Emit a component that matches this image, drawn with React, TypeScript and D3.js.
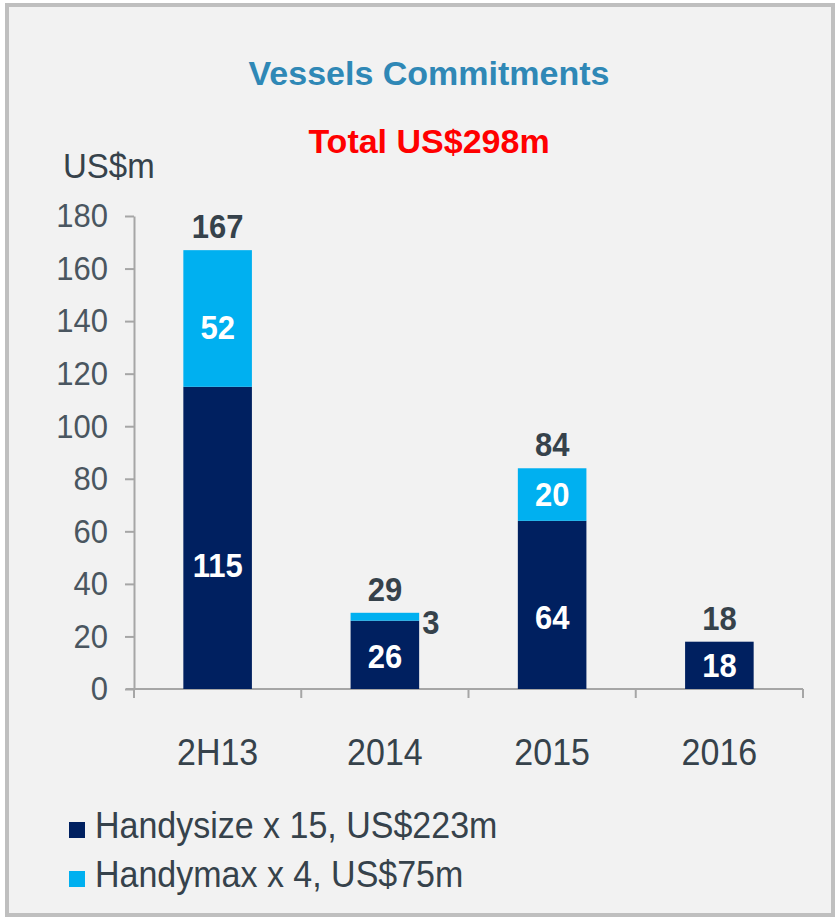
import React, { useEffect, useRef } from "react";
import * as d3 from "d3";

const categories = ["2H13", "2014", "2015", "2016"];
const handysize = [115, 26, 64, 18];
const handymax = [52, 3, 20, 0];
const yTicks = [0, 20, 40, 60, 80, 100, 120, 140, 160, 180];
const seriesNames = ["Handysize x 15, US$223m", "Handymax x 4, US$75m"];
const seriesColors = ["#002060", "#00b0f0"];

const W = 836;
const H = 919;
const FONT = "'Liberation Sans', Arial, Helvetica, sans-serif";
const TEXT = "#36424b";
const AXIS = "#a6a6a6";
const SY = 1.09; // text in the source looks a bit taller than wide

// place a text at (x, y) with a small vertical stretch
const place = (sel: any, x: number, y: number) =>
  sel.attr("x", 0).attr("y", 0).attr("transform", `translate(${x},${y}) scale(1,${SY})`);

const App = () => {
  const svgRef = useRef<SVGSVGElement | null>(null);

  useEffect(() => {
    if (!svgRef.current) return;
    const svg = d3.select(svgRef.current);
    svg.selectAll("*").remove();

    // panel background + border
    svg
      .append("rect")
      .attr("x", 7)
      .attr("y", 5)
      .attr("width", W - 10)
      .attr("height", H - 9)
      .attr("fill", "#f2f2f2")
      .attr("stroke", "#bfbfbf")
      .attr("stroke-width", 4);

    svg
      .append("text")
      .attr("x", 429)
      .attr("y", 85)
      .attr("text-anchor", "middle")
      .attr("font-family", FONT)
      .attr("font-weight", "bold")
      .attr("font-size", 34)
      .attr("fill", "#2f88b6")
      .text("Vessels Commitments");

    svg
      .append("text")
      .attr("x", 429)
      .attr("y", 153)
      .attr("text-anchor", "middle")
      .attr("font-family", FONT)
      .attr("font-weight", "bold")
      .attr("font-size", 34)
      .attr("fill", "#ff0000")
      .text("Total US$298m");

    svg
      .append("text")
      .call(place, 63, 178)
      .attr("font-family", FONT)
      .attr("font-size", 33)
      .attr("fill", TEXT)
      .text("US$m");

    const stacked = categories.map((c, i) => ({
      cat: c,
      hs: handysize[i],
      hm: handymax[i],
      total: handysize[i] + handymax[i],
    }));

    const x = d3
      .scaleBand()
      .domain(categories)
      .range([134, 803])
      .paddingInner(0.59)
      .paddingOuter(0.295);
    const y = d3.scaleLinear().domain([0, 180]).range([689, 216]);

    // y axis
    const yAxis = svg
      .append("g")
      .attr("transform", "translate(134,0)")
      .call(d3.axisLeft(y).tickValues(yTicks).tickSize(9).tickSizeOuter(0).tickPadding(17));
    yAxis.select(".domain").attr("stroke", AXIS).attr("stroke-width", 2);
    yAxis.selectAll(".tick line").attr("stroke", AXIS).attr("stroke-width", 2);
    yAxis
      .selectAll(".tick text")
      .attr("transform", `scale(1,${SY})`)
      .attr("font-family", FONT)
      .attr("font-size", 31)
      .attr("fill", "#4a5660");

    // x axis: ticks at category boundaries
    const xg = svg.append("g");
    xg.append("line")
      .attr("x1", 126)
      .attr("x2", 803)
      .attr("y1", y(0))
      .attr("y2", y(0))
      .attr("stroke", AXIS)
      .attr("stroke-width", 2);
    const bounds = categories.map((c) => (x(c) as number) - (x.step() - x.bandwidth()) / 2);
    bounds.push(803);
    xg.selectAll("line.bt")
      .data(bounds)
      .join("line")
      .attr("class", "bt")
      .attr("x1", (d) => d)
      .attr("x2", (d) => d)
      .attr("y1", y(0))
      .attr("y2", y(0) + 9)
      .attr("stroke", AXIS)
      .attr("stroke-width", 2);
    xg.selectAll("text")
      .data(categories)
      .join("text")
      .each(function (d) {
        place(d3.select(this), (x(d) as number) + x.bandwidth() / 2, 765);
      })
      .attr("text-anchor", "middle")
      .attr("font-family", FONT)
      .attr("font-size", 34)
      .attr("fill", TEXT)
      .text((d) => d);

    // bars
    const segs = stacked
      .flatMap((d) => [
        { cat: d.cat, y0: 0, y1: d.hs, v: d.hs, k: 0 },
        { cat: d.cat, y0: d.hs, y1: d.total, v: d.hm, k: 1 },
      ])
      .filter((s) => s.v > 0);

    svg
      .append("g")
      .selectAll("rect")
      .data(segs)
      .join("rect")
      .attr("x", (d) => x(d.cat) as number)
      .attr("width", x.bandwidth())
      .attr("y", (d) => y(d.y1))
      .attr("height", (d) => y(d.y0) - y(d.y1))
      .attr("fill", (d) => seriesColors[d.k]);

    // segment labels
    svg
      .append("g")
      .selectAll("text")
      .data(segs)
      .join("text")
      .attr("font-family", FONT)
      .attr("font-weight", "bold")
      .attr("font-size", 31)
      .attr("dominant-baseline", "central")
      .each(function (d) {
        const h = y(d.y0) - y(d.y1);
        const t = d3.select(this);
        if (h < 20) {
          // too thin, put it beside the bar
          place(t, (x(d.cat) as number) + x.bandwidth() + 3, y(d.y0) + 2)
            .attr("text-anchor", "start")
            .attr("fill", TEXT);
        } else {
          const off = Math.max(0, h - 50) * 0.11;
          place(t, (x(d.cat) as number) + x.bandwidth() / 2, (y(d.y0) + y(d.y1)) / 2 + off)
            .attr("text-anchor", "middle")
            .attr("fill", "#ffffff");
        }
      })
      .text((d) => d.v);

    // totals
    svg
      .append("g")
      .selectAll("text")
      .data(stacked)
      .join("text")
      .each(function (d) {
        place(d3.select(this), (x(d.cat) as number) + x.bandwidth() / 2, y(d.total) - 12);
      })
      .attr("text-anchor", "middle")
      .attr("font-family", FONT)
      .attr("font-weight", "bold")
      .attr("font-size", 31)
      .attr("fill", TEXT)
      .text((d) => d.total);

    // legend
    const lg = svg
      .append("g")
      .selectAll("g")
      .data(seriesNames)
      .join("g")
      .attr("transform", (d, i) => `translate(69,${838 + i * 49})`);
    lg.append("rect")
      .attr("x", 0)
      .attr("y", -16)
      .attr("width", 16)
      .attr("height", 16)
      .attr("fill", (d, i) => seriesColors[i]);
    lg.append("text")
      .call(place, 26, 0)
      .attr("font-family", FONT)
      .attr("font-size", 34)
      .attr("fill", TEXT)
      .text((d) => d);
  }, []);

  return (
    <div style={{ position: "absolute", left: 0, top: 0 }}>
      <svg ref={svgRef} width={W} height={H} style={{ display: "block" }} />
    </div>
  );
};

export default App;
